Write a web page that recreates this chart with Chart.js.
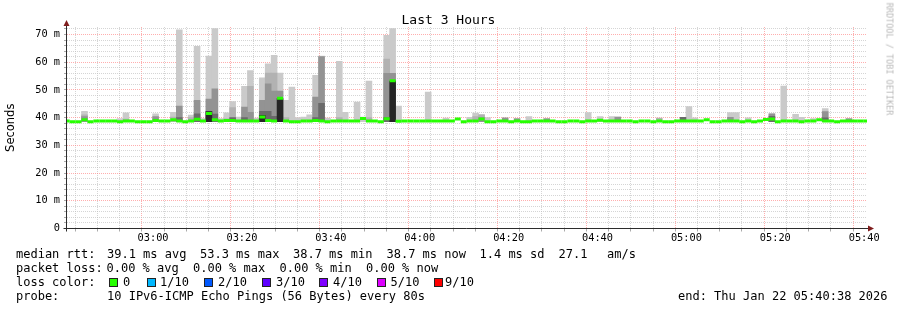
<!DOCTYPE html>
<html><head><meta charset="utf-8">
<script src="https://cdn.jsdelivr.net/npm/chart.js@4/dist/chart.umd.min.js"></script>
<style>
html,body{margin:0;padding:0;background:#fff;}
#wrap{position:relative;width:897px;height:310px;overflow:hidden;background:#fff;font-family:'DejaVu Sans Mono',monospace;color:#000;}
canvas{position:absolute;left:0;top:0;}
.t{position:absolute;white-space:pre;font-size:12px;line-height:14px;}
.box{position:absolute;width:7px;height:7px;border:1px solid #222;}
#title{position:absolute;left:0;width:897px;top:12px;text-align:center;font-size:13px;line-height:15px;white-space:pre;}
#wm{position:absolute;left:889px;top:59px;font-size:8.5px;line-height:9px;color:#b8b8b8;white-space:pre;transform:translate(-50%,-50%) rotate(90deg);}
</style></head>
<body><div id="wrap">
<canvas id="c" width="897" height="310"></canvas>
<div id="title">Last 3 Hours</div>
<div id="wm">RRDTOOL / TOBI OETIKER</div>
</div>
<script>
const _ = null;
// graph window: 02:40:38 -> 05:40:38 (3 hours), samples every 80 s
const START_SEC_OF_DAY = 2*3600 + 40*60 + 38;
const SPAN_MIN = 180;
const STEP_SEC = 80;
const FIRST_SAMPLE_SEC = -4;
const SMOKE_FLOOR = 38.5;
const Y_MAX = 72.7;
const X_LABELS = ['03:00','03:20','03:40','04:00','04:20','04:40','05:00','05:20','05:40'];
const Y_LABELS = ['0','10 m','20 m','30 m','40 m','50 m','60 m','70 m'];

// median rtt (ms) per sample
const MEDIAN = [
 38.8,38.55,38.55,39.2,38.55,38.8,38.8,38.8,38.8,38.55,
 38.8,38.8,38.55,38.55,38.55,39.0,38.8,38.8,39.2,38.8,
 38.55,38.8,39.4,38.8,41.5,39.2,38.8,39.0,39.0,38.8,
 38.8,38.8,38.8,40.2,39.0,38.8,47.0,38.8,38.55,38.55,
 38.8,38.8,39.0,38.8,38.55,38.8,38.8,38.8,38.8,38.8,
 39.7,38.8,38.8,38.55,39.6,53.3,38.7,38.8,38.8,38.8,
 38.8,38.8,38.8,38.8,38.8,38.8,39.5,38.55,38.8,38.8,
 39.5,38.55,38.55,38.8,38.8,38.55,38.8,38.55,38.55,38.8,
 38.8,38.8,38.8,38.55,38.55,38.8,38.8,38.55,38.8,38.8,
 39.1,38.8,38.8,38.8,38.8,38.8,38.55,38.8,38.8,38.55,
 38.8,38.55,38.55,38.8,38.8,38.8,38.8,38.8,39.2,38.55,
 38.55,38.8,38.8,38.8,38.55,38.8,38.55,38.8,39.3,39.5,
 38.55,38.8,38.8,38.8,38.55,38.8,38.8,39.2,38.8,38.8,
 38.55,38.8,38.8,38.8,38.8,38.8
];
// smoke band tops (ms), lightest to darkest
const SMOKE_A = [
 _,_,_,42.3,_,_,_,_,_,39.7,
 41.7,_,_,_,_,41.4,_,_,41.9,71.7,
 _,40.9,65.7,39.7,62.2,72.1,39.7,41.7,45.8,40.2,
 51.3,57.0,39.8,54.4,59.4,62.5,56.1,46.2,51.0,40.0,
 40.2,41.0,55.3,62.2,39.8,_,60.3,41.9,_,45.6,
 40.2,53.2,_,_,69.7,72.1,44.2,_,_,_,
 _,49.2,_,_,39.8,_,_,_,40.1,41.6,
 41.1,40.0,_,_,_,_,_,_,40.4,_,
 _,_,_,_,_,_,_,_,41.8,_,
 40.4,_,40.4,40.4,_,_,_,_,_,_,
 _,_,_,_,_,44.0,39.9,_,_,_,
 _,_,41.8,41.8,_,39.9,_,_,_,41.4,
 _,51.4,_,41.2,40.1,_,39.7,_,43.3,_,
 _,_,_,_,_,_
];
const SMOKE_B = [
 _,_,_,41.0,_,_,_,_,_,_,
 39.5,_,_,_,_,_,_,_,40.2,_,
 _,40.0,_,_,_,_,_,39.6,43.6,_,
 _,51.3,_,_,56.1,56.1,_,40.0,_,_,
 _,_,_,_,_,_,40.0,_,_,_,
 _,40.0,_,_,61.1,_,_,_,_,_,
 _,_,_,_,_,_,_,_,_,40.4,
 41.0,_,_,_,_,_,_,_,_,_,
 _,_,_,_,_,_,_,_,_,_,
 _,_,_,_,_,_,_,_,_,_,
 39.8,_,_,_,_,_,_,_,_,_,
 _,_,_,_,_,_,_,_,_,_,
 _,_,_,_,_,_,_,_,_,_,
 _,_,_,_,_,_
];
const SMOKE_C = [
 _,_,_,40.4,_,_,_,_,_,_,
 _,_,_,_,_,40.4,_,_,_,44.2,
 _,_,46.2,_,46.7,50.4,_,_,_,_,
 43.8,41.9,_,46.2,52.2,49.6,49.6,_,_,_,
 _,_,47.4,62.0,_,_,_,_,_,_,
 _,_,_,_,56.0,56.0,_,_,_,_,
 _,_,_,_,_,_,_,_,_,_,
 40.0,_,_,_,39.9,_,39.7,_,_,_,
 _,39.7,_,_,_,_,_,_,_,_,
 _,_,_,40.1,_,_,_,_,_,_,
 _,_,_,_,_,_,_,_,_,_,
 _,_,40.1,_,_,_,_,_,_,41.4,
 _,_,_,_,_,_,_,_,42.2,_,
 _,_,39.7,_,_,_
];
const SMOKE_D = [
 _,_,_,_,_,_,_,_,_,_,
 _,_,_,_,_,_,_,_,_,40.0,
 _,_,41.4,_,42.3,41.3,_,_,40.0,_,
 40.0,_,_,42.3,42.3,40.5,_,_,_,_,
 _,_,40.0,45.2,_,_,_,_,_,_,
 _,_,_,_,40.0,_,_,_,_,_,
 _,_,_,_,_,_,_,_,_,_,
 _,_,_,_,_,_,_,_,_,_,
 _,_,_,_,_,_,_,_,_,_,
 _,_,_,_,_,_,_,_,_,_,
 _,_,_,_,40.1,_,_,_,_,_,
 _,_,_,_,_,_,_,_,_,40.5,
 _,_,_,_,_,_,_,_,39.9,_,
 _,_,_,_,_,_
];
const SMOKE_E = [
 _,_,_,_,_,_,_,_,_,_,
 _,_,_,_,_,_,_,_,_,_,
 _,_,_,_,42.2,_,_,_,_,_,
 _,_,_,40.8,_,_,46.9,_,_,_,
 _,_,_,_,_,_,_,_,_,_,
 _,_,_,_,_,53.2,_,_,_,_,
 _,_,_,_,_,_,_,_,_,_,
 _,_,_,_,_,_,_,_,_,_,
 _,_,_,_,_,_,_,_,_,_,
 _,_,_,_,_,_,_,_,_,_,
 _,_,_,_,_,_,_,_,_,_,
 _,_,_,_,_,_,_,_,_,_,
 _,_,_,_,_,_,_,_,_,_,
 _,_,_,_,_,_
];

const LEGEND_LINES = [
 {y:247, parts:[[16,'median rtt:'],[107,'39.1 ms avg'],[200,'53.3 ms max'],[293,'38.7 ms min'],[386.5,'38.7 ms now'],[479.5,'1.4 ms sd'],[558.5,'27.1'],[607,'am/s']]},
 {y:261, parts:[[16,'packet loss:'],[106.5,'0.00 % avg'],[193,'0.00 % max'],[279.5,'0.00 % min'],[366,'0.00 % now']]},
 {y:275, parts:[[16,'loss color:'],[123,'0'],[160,'1/10'],[218,'2/10'],[276,'3/10'],[333,'4/10'],[390.5,'5/10'],[445,'9/10']]},
 {y:289, parts:[[16,'probe:'],[107,'10 IPv6-ICMP Echo Pings (56 Bytes) every 80s'],[678,'end: Thu Jan 22 05:40:38 2026']]}
];
const LOSS_COLORS = ['#26ff00','#00b8ff','#0059ff','#5e00ff','#7e00ff','#dd00ff','#ff0000'];
const LOSS_BOX_X = [109,146.5,204,262,319,376.5,434];

const wrap = document.getElementById('wrap');
LEGEND_LINES.forEach(l => l.parts.forEach(([x,s]) => {
  const d = document.createElement('div'); d.className='t'; d.style.left=x+'px'; d.style.top=l.y+'px'; d.textContent=s; wrap.appendChild(d);
}));
LOSS_COLORS.forEach((c,i) => {
  const b = document.createElement('div'); b.className='box'; b.style.left=LOSS_BOX_X[i]+'px'; b.style.top='278px'; b.style.background=c; wrap.appendChild(b);
});

const xOf = k => (FIRST_SAMPLE_SEC + k*STEP_SEC)/60;
function band(tops, color, order){
  return {type:'bar', data: tops.map((v,k)=>({x:xOf(k), y: v==null ? null : [SMOKE_FLOOR, v]})),
    backgroundColor:color, borderWidth:0, grouped:false, barPercentage:1.0, categoryPercentage:1.0, order};
}
const secOf = v => Math.round(v*60 + START_SEC_OF_DAY);
const MINOR = 'rgba(190,190,190,0.65)', MAJOR = 'rgba(255,120,120,0.6)';

const axisPlugin = {
  id:'axes',
  afterDraw(chart){
    const {ctx, chartArea:a} = chart;
    const x0 = Math.round(a.left)-0.5, y0 = Math.round(a.bottom)+0.5-1;
    ctx.save();
    ctx.strokeStyle='#2c2c2c'; ctx.lineWidth=1; ctx.setLineDash([]);
    ctx.beginPath(); ctx.moveTo(x0-3, y0); ctx.lineTo(a.right+2, y0); ctx.stroke();
    ctx.beginPath(); ctx.moveTo(x0, y0+3); ctx.lineTo(x0, a.top-1); ctx.stroke();
    ctx.fillStyle='#7f1d1d';
    ctx.beginPath(); ctx.moveTo(x0-3, a.top-1); ctx.lineTo(x0+3, a.top-1); ctx.lineTo(x0, a.top-7); ctx.closePath(); ctx.fill();
    ctx.beginPath(); ctx.moveTo(a.right+1, y0-3); ctx.lineTo(a.right+1, y0+3); ctx.lineTo(a.right+7, y0); ctx.closePath(); ctx.fill();
    ctx.restore();
  }
};

new Chart(document.getElementById('c'), {
  data: {datasets: [
    {type:'line', data: MEDIAN.map((v,k)=>({x:xOf(k), y:v})), showLine:false, pointStyle:'line',
     pointRadius:3, pointHoverRadius:3, pointBorderWidth:3, pointBorderColor:'#26ff00', pointBackgroundColor:'#26ff00', order:0, clip:0},
    band(SMOKE_E, '#262626', 1),
    band(SMOKE_D, '#6a6a6a', 2),
    band(SMOKE_C, '#939393', 3),
    band(SMOKE_B, '#b2b2b2', 4),
    band(SMOKE_A, '#cacaca', 5)
  ]},
  options: {
    responsive:false, animation:false, events:[], devicePixelRatio:1,
    layout:{padding:{left:0, right:30, top:27, bottom:61.5}},
    plugins:{legend:{display:false}, tooltip:{enabled:false}, title:{display:false}},
    scales:{
      x:{type:'linear', min:0, max:SPAN_MIN, offset:false,
        afterBuildTicks(s){ const t=[]; for(let m=Math.ceil(START_SEC_OF_DAY/300)*300; m<=START_SEC_OF_DAY+SPAN_MIN*60; m+=300) t.push({value:(m-START_SEC_OF_DAY)/60}); s.ticks=t; },
        afterFit(s){ s.height = 20; },
        ticks:{autoSkip:false, maxRotation:0, padding:1, color:'#000', font:{family:'DejaVu Sans Mono', size:10.3},
          callback(v){ const sec=secOf(v); if (sec%1200!==0) return ''; const i=(sec-3*3600)/1200; return X_LABELS[i] ?? ''; }},
        grid:{color:c=>(c.tick && secOf(c.tick.value)%1200===0)?MAJOR:MINOR, lineWidth:1, drawTicks:true, tickLength:3, tickColor:'#aaa'},
        border:{display:false, dash:[1,1]}
      },
      y:{type:'linear', min:0, max:Y_MAX,
        afterBuildTicks(s){ const t=[]; for(let v=0; v<=72; v+=2) t.push({value:v}); s.ticks=t; },
        afterFit(s){ s.width = 67; },
        ticks:{autoSkip:false, padding:4, color:'#000', font:{family:'DejaVu Sans Mono', size:10.3},
          callback(v){ return v%10===0 ? Y_LABELS[v/10] : ''; }},
        grid:{color:c=>(c.tick && c.tick.value%10===0)?MAJOR:MINOR, lineWidth:1, drawTicks:true, tickLength:3, tickColor:'#aaa'},
        border:{display:false, dash:[1,1]},
        title:{display:true, text:'Seconds', color:'#000', font:{family:'DejaVu Sans', size:11.5}, padding:{top:4,bottom:4}}
      }
    }
  },
  plugins:[axisPlugin]
});
</script>
</body></html>
